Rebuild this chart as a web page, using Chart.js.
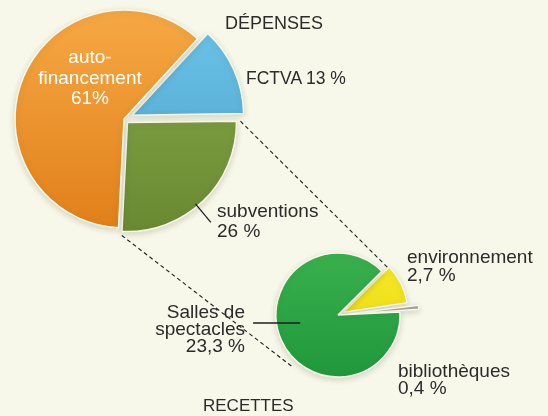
<!DOCTYPE html>
<html>
<head>
<meta charset="utf-8">
<script src="https://cdn.jsdelivr.net/npm/chart.js@4.4.1/dist/chart.umd.min.js"></script>
<style>
  body { margin: 0; background: #f7f8ea; }
  #wrap { position: relative; width: 548px; height: 416px; overflow: hidden;
          font-family: "Liberation Sans", Arial, sans-serif; color: #2b2b2b; }
  canvas { position: absolute; left: 0; top: 0; }
  .lbl { position: absolute; white-space: nowrap; }
</style>
</head>
<body>
<div id="wrap">
  <canvas id="depenses" width="548" height="416"></canvas>
  <canvas id="recettes" width="548" height="416"></canvas>
</div>
<script>
// data
const depLabels = ['FCTVA', 'subventions', 'auto-financement'];
const depValues = [13, 26, 61];
const recLabels = ['environnement', 'bibliothèques', 'Salles de spectacles'];
const recValues = [2.7, 0.4, 23.3];

const BG = '#f7f8ea';
const depColors = [['#6fc8ea', '#4a9dca'], ['#8cac4e', '#688830'], ['#f7aa46', '#e07e18']];
const recColors = [['#f8ee2e', '#e8cf06'], ['#b4b4ac', '#96968f'], ['#3bb24f', '#1e973b']];
const OFF_DIV = 4; // chart.js v4 arcs move by offset / 4

function grad(ctx, pair) {
  const area = ctx.chart.chartArea;
  if (!area) return pair[0];
  const g = ctx.chart.ctx.createLinearGradient(0, area.top, 0, area.bottom);
  g.addColorStop(0, pair[0]);
  g.addColorStop(1, pair[1]);
  return g;
}

const noPlugins = { legend: { display: false }, tooltip: { enabled: false } };

// soft shadow under the pies
const softShadow = {
  id: 'softShadow',
  beforeDatasetsDraw(chart) {
    const c = chart.ctx;
    c.save();
    c.shadowColor = 'rgba(60,60,30,0.18)';
    c.shadowBlur = 6;
    c.shadowOffsetY = 2;
  },
  afterDatasetsDraw(chart) { chart.ctx.restore(); }
};

const bigChart = new Chart(document.getElementById('depenses'), {
  type: 'pie',
  data: {
    labels: depLabels,
    datasets: [{
      data: depValues,
      backgroundColor: c => grad(c, depColors[c.dataIndex]),
      offset: [36, 20, 0],
      borderWidth: 1.5,
      borderColor: BG,
      radius: 109
    }]
  },
  options: {
    responsive: false, animation: false, rotation: 42.5,
    layout: { padding: { left: 0, right: 300, top: 0, bottom: 178 } },
    plugins: noPlugins
  },
  plugins: [softShadow]
});

// point on an arc's rim, including the offset shift
function rim(arc, angle, extra) {
  const sh = (arc.options.offset || 0) / OFF_DIV;
  const mid = (arc.startAngle + arc.endAngle) / 2;
  const r = arc.outerRadius + extra;
  return [arc.x + Math.cos(mid) * sh + Math.cos(angle) * r,
          arc.y + Math.sin(mid) * sh + Math.sin(angle) * r];
}

const connectors = {
  id: 'connectors',
  afterDraw(chart) {
    const ctx = chart.ctx;
    const big = bigChart.getDatasetMeta(0).data;
    const small = chart.getDatasetMeta(0).data;
    const sub = big[1], env = small[0], salles = small[2];
    ctx.save();
    ctx.strokeStyle = '#1e1e1e';
    ctx.lineWidth = 1.1;
    ctx.setLineDash([4, 3]);
    let a = rim(sub, sub.startAngle, 4), b = rim(env, env.startAngle, 1);
    ctx.beginPath(); ctx.moveTo(a[0], a[1]); ctx.lineTo(b[0], b[1]); ctx.stroke();
    a = rim(sub, sub.endAngle, 4); b = rim(salles, 131 * Math.PI / 180, 7);
    ctx.beginPath(); ctx.moveTo(a[0], a[1]); ctx.lineTo(b[0], b[1]); ctx.stroke();
    ctx.setLineDash([]);
    ctx.lineWidth = 1.3;
    const ang = (sub.startAngle + sub.endAngle) / 2 + 0.07;
    a = rim(sub, ang, -3); b = rim(sub, ang, 21);
    ctx.beginPath(); ctx.moveTo(a[0], a[1]); ctx.lineTo(b[0], b[1]); ctx.stroke();
    const r = salles.outerRadius;
    ctx.beginPath();
    ctx.moveTo(salles.x - r * 0.61, salles.y + 8);
    ctx.lineTo(salles.x - r * 1.37, salles.y + 8);
    ctx.stroke();
    ctx.restore();
  }
};

new Chart(document.getElementById('recettes'), {
  type: 'pie',
  data: {
    labels: recLabels,
    datasets: [{
      data: recValues,
      backgroundColor: c => grad(c, recColors[c.dataIndex]),
      offset: [24, 40, 0],
      borderWidth: 1.5,
      borderColor: BG,
      radius: 62
    }]
  },
  options: {
    responsive: false, animation: false, rotation: 45,
    layout: { padding: { left: 270, right: 142, top: 247, bottom: 33 } },
    plugins: noPlugins
  },
  plugins: [softShadow, connectors]
});

// texts: x, baseline of first line, font size, line height, align
function addLabel(lines, x, base, size, lh, align, color) {
  const d = document.createElement('div');
  d.className = 'lbl';
  d.innerHTML = lines.join('<br>');
  d.style.fontSize = size + 'px';
  d.style.lineHeight = lh + 'px';
  d.style.top = (base - (lh / 2 + 0.3465 * size)) + 'px';
  d.style.textAlign = align;
  if (align === 'left') d.style.left = x + 'px';
  if (align === 'right') d.style.right = (548 - x) + 'px';
  if (align === 'center') { d.style.left = (x - 100) + 'px'; d.style.width = '200px'; }
  if (color) d.style.color = color;
  document.getElementById('wrap').appendChild(d);
}

addLabel(['DÉPENSES'], 225, 29, 18, 20, 'left');
addLabel(['FCTVA 13 %'], 246, 84, 17.5, 20, 'left');
addLabel(['auto-', 'financement', '61%'], 90, 64, 19, 20.5, 'center', '#ffffff');
addLabel(['subventions', '26 %'], 217, 218, 19, 20, 'left');
addLabel(['environnement', '2,7 %'], 407, 264, 19, 18, 'left');
addLabel(['Salles de', 'spectacles', '23,3 %'], 245, 318, 19, 17, 'right');
addLabel(['bibliothèques', '0,4 %'], 398, 377, 19, 17, 'left');
addLabel(['RECETTES'], 203, 412, 17, 20, 'left');
</script>
</body>
</html>
